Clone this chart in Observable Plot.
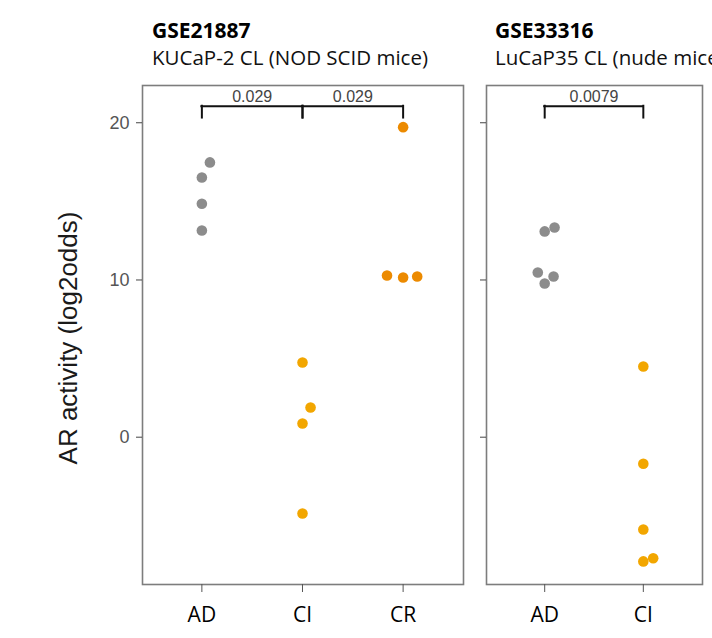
<!DOCTYPE html>
<html>
<head>
<meta charset="utf-8">
<script src="https://cdn.jsdelivr.net/npm/d3@7"></script>
<script src="https://cdn.jsdelivr.net/npm/@observablehq/plot@0.6"></script>
<style>
  html, body { margin: 0; padding: 0; background: #fff; }
  #wrap { position: relative; width: 712px; height: 638px; overflow: hidden; background: #fff; }
  .ttl { position: absolute; font-family: "Open Sans", sans-serif; line-height: 1; white-space: nowrap; color: #000; }
  .ttl.b { font-weight: 700; font-size: 21px; }
  .ttl.s { font-weight: 400; font-size: 20.5px; color: #111; }
  .pnl { position: absolute; top: 70px; }
</style>
</head>
<body>
<div id="wrap">
  <div class="ttl b" style="left:152px; top:20px;">GSE21887</div>
  <div class="ttl s" style="left:152px; top:47px;">KUCaP-2 CL (NOD SCID mice)</div>
  <div class="ttl b" style="left:495px; top:20px;">GSE33316</div>
  <div class="ttl s" style="left:495px; top:47px;">LuCaP35 CL (nude mice)</div>
  <div class="pnl" id="p1" style="left:0px;"></div>
  <div class="pnl" id="p2" style="left:470px;"></div>
</div>
<script>
// ---- data ----
const yTicks = [0, 10, 20];
const yLabel = "AR activity (log2odds)";
const groupColors = { AD: "#8c8c8c", CI: "#F2A600", CR: "#EC8A00" };

// Panel 1: GSE21887
const p1Categories = ["AD", "CI", "CR"];
const p1Group  = ["AD", "AD", "AD", "AD", "CI", "CI", "CI", "CI", "CR", "CR", "CR", "CR"];
const p1Value  = [17.48, 16.52, 14.85, 13.15, 4.75, 1.89, 0.87, -4.85, 19.72, 10.28, 10.16, 10.22];
const p1Jitter = [0.08, 0, 0, 0, 0, 0.08, 0, 0, 0, -0.16, 0, 0.14];
const p1CompFrom  = ["AD", "CI"];
const p1CompTo    = ["CI", "CR"];
const p1CompLabel = ["0.029", "0.029"];

// Panel 2: GSE33316
const p2Categories = ["AD", "CI"];
const p2Group  = ["AD", "AD", "AD", "AD", "AD", "CI", "CI", "CI", "CI", "CI"];
const p2Value  = [13.09, 13.34, 10.48, 9.78, 10.22, 4.5, -1.69, -5.87, -7.9, -7.7];
const p2Jitter = [0, 0.1, -0.07, 0, 0.09, 0, 0, 0, 0, 0.1];
const p2CompFrom  = ["AD"];
const p2CompTo    = ["CI"];
const p2CompLabel = ["0.0079"];

const bracketY = 21.05;
const bracketTipY = 20.3;

function panel({cats, group, value, jitter, from, to, labels, width, marginLeft, marginRight, showY}) {
  const pos = c => cats.indexOf(c) + 1;
  const pts = value.map((v, i) => ({x: pos(group[i]) + jitter[i], y: v, g: group[i]}));
  const comps = labels.map((l, i) => ({x1: pos(from[i]), x2: pos(to[i]), label: l}));
  const marks = [
    Plot.frame({stroke: "#7d7d7d", strokeWidth: 1.6}),
    Plot.axisY({ticks: yTicks, tickSize: 6, tickPadding: 7, stroke: "#444", fill: "#555",
      fontSize: 18, fontFamily: "Liberation Sans, Arial, sans-serif",
      tickFormat: showY ? (d => d) : (() => ""), label: null}),
    Plot.axisX({ticks: cats.map((c, i) => i + 1), tickFormat: d => cats[d - 1], tickSize: 8, tickPadding: 15,
      stroke: "#555", fill: "#000", fontSize: 21, fontFamily: "Open Sans, sans-serif", label: null}),
    Plot.ruleY(comps, {x1: "x1", x2: "x2", y: bracketY, stroke: "#111", strokeWidth: 2, strokeLinecap: "square"}),
    Plot.ruleX(comps, {x: "x1", y1: bracketTipY, y2: bracketY, stroke: "#111", strokeWidth: 2, strokeLinecap: "square"}),
    Plot.ruleX(comps, {x: "x2", y1: bracketTipY, y2: bracketY, stroke: "#111", strokeWidth: 2, strokeLinecap: "square"}),
    Plot.text(comps, {x: d => (d.x1 + d.x2) / 2, y: bracketY, text: "label", dy: -4, lineAnchor: "bottom",
      fontSize: 16, fill: "#444", fontFamily: "Liberation Sans, Arial, sans-serif"}),
    Plot.dot(pts, {x: "x", y: "y", fill: "g", r: 5.3})
  ];
  if (showY) {
    marks.push(Plot.text([yLabel], {frameAnchor: "left", textAnchor: "middle", dx: -74, dy: 3, rotate: -90,
      fontSize: 26, fill: "#1a1a1a", fontFamily: "Liberation Sans, Arial, sans-serif"}));
  }
  return Plot.plot({
    width, height: 568,
    marginTop: 15, marginBottom: 54, marginLeft, marginRight,
    x: {type: "linear", domain: [0.41, cats.length + 0.6], axis: null},
    y: {domain: [-9.37, 22.37], axis: null},
    color: {domain: Object.keys(groupColors), range: Object.values(groupColors)},
    style: {background: "transparent", overflow: "visible"},
    marks
  });
}

document.getElementById("p1").appendChild(panel({
  cats: p1Categories, group: p1Group, value: p1Value, jitter: p1Jitter,
  from: p1CompFrom, to: p1CompTo, labels: p1CompLabel,
  width: 475, marginLeft: 142, marginRight: 12, showY: true
}));
document.getElementById("p2").appendChild(panel({
  cats: p2Categories, group: p2Group, value: p2Value, jitter: p2Jitter,
  from: p2CompFrom, to: p2CompTo, labels: p2CompLabel,
  width: 242, marginLeft: 16, marginRight: 10, showY: false
}));
</script>
</body>
</html>
